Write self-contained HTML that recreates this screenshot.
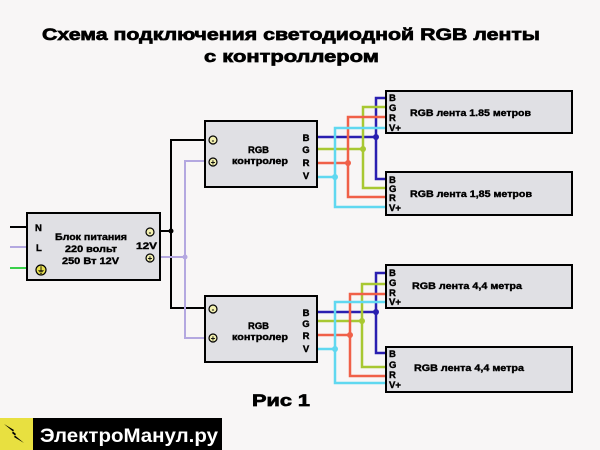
<!DOCTYPE html>
<html><head><meta charset="utf-8"><style>
html,body{margin:0;padding:0;background:#f8f6f6;}
svg{display:block;font-family:"Liberation Sans","DejaVu Sans",sans-serif;font-weight:bold;}
.b{stroke:#000;stroke-width:0.4;}
</style></head><body>
<svg width="600" height="450" viewBox="0 0 600 450" xmlns="http://www.w3.org/2000/svg">
<rect width="600" height="450" fill="#f8f6f6"/>
<text class="b" x="42" y="40" font-size="17" textLength="498" lengthAdjust="spacingAndGlyphs" style="stroke-width:0.7">Схема подключения светодиодной RGB ленты</text>
<text class="b" x="204" y="62" font-size="17" textLength="175" lengthAdjust="spacingAndGlyphs" style="stroke-width:0.7">с контроллером</text>

<line x1="10" y1="227" x2="27" y2="227" stroke="#000" stroke-width="2"/>
<line x1="10" y1="247" x2="27" y2="247" stroke="#b4a8e0" stroke-width="2"/>
<line x1="10" y1="268" x2="27" y2="268" stroke="#3ad04a" stroke-width="2"/>

<g fill="none" stroke-width="2">
<polyline points="160,231 171,231" stroke="#000"/>
<polyline points="205,140 171,140 171,308 205,308" stroke="#000"/>
<polyline points="160,257 185,257" stroke="#b4a8e0"/>
<polyline points="205,161 185,161 185,338 205,338" stroke="#b4a8e0"/>
</g>
<circle cx="171" cy="231" r="2.5" fill="#000"/>
<circle cx="185" cy="257" r="2.5" fill="#b4a8e0"/>

<g fill="none" stroke-width="2.5">
<polyline points="317,137 376,137" stroke="#2a1fb0"/>
<polyline points="386,98 376,98 376,179 386,179" stroke="#2a1fb0"/>
<polyline points="317,149 363,149" stroke="#a8c832"/>
<polyline points="386,107 363,107 363,188 386,188" stroke="#a8c832"/>
<polyline points="317,163 348,163" stroke="#f06048"/>
<polyline points="386,117 348,117 348,197 386,197" stroke="#f06048"/>
<polyline points="317,177 335,177" stroke="#60d8f0"/>
<polyline points="386,128 335,128 335,207 386,207" stroke="#60d8f0"/>
</g>
<circle cx="376" cy="137" r="3" fill="#2a1fb0"/>
<circle cx="363" cy="149" r="3" fill="#a8c832"/>
<circle cx="348" cy="163" r="3" fill="#f06048"/>
<circle cx="335" cy="177" r="3" fill="#60d8f0"/>

<g fill="none" stroke-width="2.5">
<polyline points="317,312 376,312" stroke="#2a1fb0"/>
<polyline points="386,273 376,273 376,353 386,353" stroke="#2a1fb0"/>
<polyline points="317,321 362,321" stroke="#a8c832"/>
<polyline points="386,284 362,284 362,367 386,367" stroke="#a8c832"/>
<polyline points="317,335 350,335" stroke="#f06048"/>
<polyline points="386,294 350,294 350,376 386,376" stroke="#f06048"/>
<polyline points="317,349 335,349" stroke="#60d8f0"/>
<polyline points="386,302 335,302 335,383 386,383" stroke="#60d8f0"/>
</g>
<circle cx="376" cy="312" r="3" fill="#2a1fb0"/>
<circle cx="362" cy="321" r="3" fill="#a8c832"/>
<circle cx="350" cy="335" r="3" fill="#f06048"/>
<circle cx="335" cy="349" r="3" fill="#60d8f0"/>

<rect x="27" y="213" width="133" height="67" fill="#e0e0e4" stroke="#000" stroke-width="2"/>
<g font-size="9.5" class="b">
<text x="35" y="231">N</text>
<text x="36" y="251">L</text>
<text x="55" y="240" textLength="72" lengthAdjust="spacingAndGlyphs">Блок питания</text>
<text x="65" y="252" textLength="52" lengthAdjust="spacingAndGlyphs">220 вольт</text>
<text x="62" y="264" textLength="57" lengthAdjust="spacingAndGlyphs">250 Вт 12V</text>
<text x="136" y="249" textLength="21" lengthAdjust="spacingAndGlyphs">12V</text>
</g>
<circle cx="150" cy="232" r="4" fill="#f2f0b0" stroke="#000" stroke-width="1.2"/>
<text x="150" y="235" font-size="8" text-anchor="middle">-</text>
<circle cx="150" cy="258" r="4" fill="#f2f0b0" stroke="#000" stroke-width="1.2"/>
<text x="150" y="261" font-size="8" text-anchor="middle">+</text>
<circle cx="41" cy="270" r="5" fill="#e8e050" stroke="#000" stroke-width="1.2"/>
<text x="41" y="273" font-size="8" text-anchor="middle">⏚</text>

<g>
<rect x="205" y="121" width="112" height="66" fill="#e0e0e4" stroke="#000" stroke-width="2"/>
<circle cx="213" cy="140" r="4" fill="#f2f0b0" stroke="#000" stroke-width="1.2"/>
<text x="213" y="143" font-size="8" text-anchor="middle">-</text>
<circle cx="213" cy="162" r="4" fill="#f2f0b0" stroke="#000" stroke-width="1.2"/>
<text x="213" y="165" font-size="8" text-anchor="middle">+</text>
<g class="b" font-size="9.5">
<text x="248" y="153" textLength="21" lengthAdjust="spacingAndGlyphs">RGB</text>
<text x="232" y="164" textLength="56" lengthAdjust="spacingAndGlyphs">контролер</text>
<g text-anchor="middle"><text x="306" y="141">B</text><text x="306" y="153">G</text><text x="306" y="166">R</text><text x="306" y="179">V</text></g>
</g></g>
<g>
<rect x="205" y="296" width="112" height="66" fill="#e0e0e4" stroke="#000" stroke-width="2"/>
<circle cx="213" cy="309" r="4" fill="#f2f0b0" stroke="#000" stroke-width="1.2"/>
<text x="213" y="312" font-size="8" text-anchor="middle">-</text>
<circle cx="213" cy="338" r="4" fill="#f2f0b0" stroke="#000" stroke-width="1.2"/>
<text x="213" y="341" font-size="8" text-anchor="middle">+</text>
<g class="b" font-size="9.5">
<text x="248" y="329" textLength="21" lengthAdjust="spacingAndGlyphs">RGB</text>
<text x="232" y="340" textLength="56" lengthAdjust="spacingAndGlyphs">контролер</text>
<g text-anchor="middle"><text x="306" y="316">B</text><text x="306" y="327">G</text><text x="306" y="339">R</text><text x="306" y="352">V</text></g>
</g></g>

<g font-size="9.5" class="b">
<rect x="386" y="91" width="186" height="42" fill="#e0e0e4" stroke="#000" stroke-width="2"/>
<text x="389" y="101">B</text><text x="389" y="111">G</text><text x="389" y="121">R</text><text x="389" y="131">V+</text>
<text x="410" y="116" textLength="121" lengthAdjust="spacingAndGlyphs">RGB лента 1.85 метров</text>
<rect x="386" y="172" width="186" height="43" fill="#e0e0e4" stroke="#000" stroke-width="2"/>
<text x="389" y="183">B</text><text x="389" y="192">G</text><text x="389" y="201">R</text><text x="389" y="211">V+</text>
<text x="410" y="197" textLength="122" lengthAdjust="spacingAndGlyphs">RGB лента 1,85 метров</text>
<rect x="386" y="265" width="186" height="43" fill="#e0e0e4" stroke="#000" stroke-width="2"/>
<text x="389" y="276">B</text><text x="389" y="286">G</text><text x="389" y="296">R</text><text x="389" y="305">V+</text>
<text x="412" y="289" textLength="110" lengthAdjust="spacingAndGlyphs">RGB лента 4,4 метра</text>
<rect x="386" y="347" width="186" height="45" fill="#e0e0e4" stroke="#000" stroke-width="2"/>
<text x="389" y="357">B</text><text x="389" y="368">G</text><text x="389" y="378">R</text><text x="389" y="388">V+</text>
<text x="414" y="371" textLength="110" lengthAdjust="spacingAndGlyphs">RGB лента 4,4 метра</text>
</g>

<text class="b" x="252" y="406" font-size="17" textLength="58" lengthAdjust="spacingAndGlyphs" style="stroke-width:0.7">Рис 1</text>

<rect x="0" y="418" width="33" height="32" fill="#e8e040"/>
<path d="M4,424 L14,430 L12,433 L24,443 L14,437 L16,434 Z" fill="#000"/>
<rect x="33" y="418" width="189" height="32" fill="#000"/>
<text x="40" y="442" font-size="19" fill="#fff" textLength="178" lengthAdjust="spacingAndGlyphs">ЭлектроМанул.ру</text>
</svg>
</body></html>
